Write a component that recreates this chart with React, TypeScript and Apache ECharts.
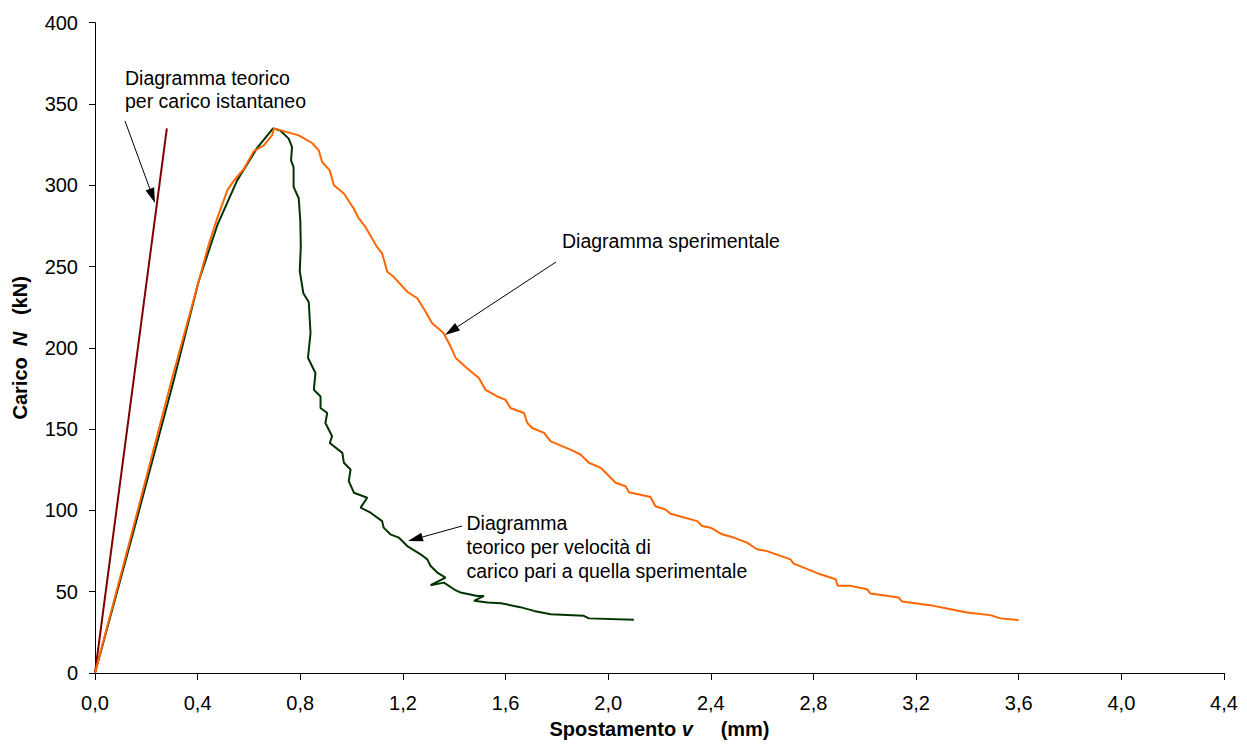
import React, { useEffect, useRef } from "react";
import * as echarts from "echarts";

// ---------- data ----------
const xTicks = { min: 0, max: 4.4, interval: 0.4 };
const yTicks = { min: 0, max: 400, interval: 50 };

// Diagramma teorico per carico istantaneo
const teoricoIstantaneo: [number, number][] = [
  [0, 0],
  [0.28, 335],
];

// Diagramma sperimentale
const sperimentale: [number, number][] = [
  [0, 0], [0.15, 90], [0.3, 181], [0.373, 223], [0.444, 264], [0.477, 280],
  [0.516, 297], [0.542, 303], [0.58, 310], [0.619, 321], [0.658, 324.5],
  [0.691, 331], [0.697, 335],
  [0.735, 333.3], [0.794, 330.7], [0.846, 326], [0.872, 321.5], [0.885, 314.3],
  [0.915, 309.2], [0.931, 300], [0.97, 294.9], [1.008, 285.7], [1.028, 279.6],
  [1.054, 274.4], [1.099, 262.1], [1.119, 258.1], [1.139, 246.8], [1.164, 243.7],
  [1.217, 234.5], [1.256, 230.5], [1.288, 222.3], [1.314, 215.2], [1.359, 209],
  [1.386, 200.8], [1.406, 193.7], [1.45, 187.5], [1.496, 181.4], [1.522, 174.2],
  [1.568, 170.1], [1.6, 168], [1.619, 163], [1.672, 159.9], [1.685, 153.8],
  [1.704, 150.7], [1.75, 147.7], [1.776, 142.5], [1.853, 137.4], [1.892, 134.4],
  [1.925, 129.3], [1.971, 126.2], [1.997, 122.1], [2.029, 117], [2.068, 114.9],
  [2.081, 111.2], [2.165, 108.2], [2.184, 102.6], [2.223, 100.6], [2.243, 98],
  [2.347, 93.4], [2.366, 90.4], [2.399, 89.4], [2.444, 85.3], [2.489, 83.3],
  [2.541, 80.2], [2.58, 76.1], [2.619, 75], [2.71, 69.9], [2.723, 67.3],
  [2.827, 60.7], [2.886, 57.7], [2.895, 53.6], [2.944, 53.6], [3.009, 51.5],
  [3.022, 48.9], [3.132, 46.4], [3.145, 44], [3.269, 41.3], [3.32, 39.7],
  [3.398, 37.2], [3.489, 35.6], [3.529, 33.6], [3.6, 32.5],
];

// Diagramma teorico per velocità di carico pari a quella sperimentale
const teoricoVelocita: [number, number][] = [
  [0, 0], [0.15, 87], [0.307, 180], [0.404, 241], [0.478, 276], [0.554, 303],
  [0.632, 323], [0.694, 335],
  [0.722, 333.7], [0.755, 328.7], [0.768, 323.5], [0.764, 315.3], [0.774, 311.2],
  [0.774, 299], [0.794, 292], [0.8, 278.5], [0.802, 262.1], [0.798, 247.2],
  [0.812, 233.6], [0.833, 228.2], [0.84, 209], [0.83, 193.9], [0.859, 184.5],
  [0.853, 174.2], [0.879, 170.1], [0.879, 163], [0.905, 159.9], [0.898, 153.8],
  [0.924, 145.6], [0.915, 141.5], [0.964, 135.4], [0.97, 129.3], [0.996, 125.2],
  [0.989, 118], [1.009, 110.9], [1.061, 107.8], [1.035, 101.7], [1.074, 98.6],
  [1.119, 93.4], [1.125, 89.4], [1.151, 85.3], [1.184, 83.3], [1.217, 78.1],
  [1.269, 73], [1.295, 69.9], [1.308, 65.8], [1.334, 61.8], [1.366, 58.7],
  [1.308, 54], [1.36, 55.6], [1.399, 51.5], [1.425, 49.5], [1.49, 47.4],
  [1.516, 47.4], [1.477, 44.4], [1.53, 43.4], [1.582, 42.9], [1.657, 40.5],
  [1.711, 38.2], [1.776, 36.2], [1.905, 35.2], [1.925, 33.6], [2.1, 32.7],
];

const labelIstantaneo = "Diagramma teorico\nper carico istantaneo";
const labelSperimentale = "Diagramma sperimentale";
const labelVelocita =
  "Diagramma\nteorico per velocità di\ncarico pari a quella sperimentale";

const FONT = "'Liberation Sans', Arial, sans-serif";
const FS = 19.5;
const TICK_FS = 20;
const TITLE_FS = 20;

function arrow(x1: number, y1: number, x2: number, y2: number) {
  const dx = x2 - x1;
  const dy = y2 - y1;
  const len = Math.sqrt(dx * dx + dy * dy);
  const ux = dx / len;
  const uy = dy / len;
  const L = 15;
  const W = 4.5;
  const bx = x2 - ux * L;
  const by = y2 - uy * L;
  return [
    {
      type: "line",
      shape: { x1, y1, x2: bx, y2: by },
      style: { stroke: "#000", lineWidth: 1 },
      silent: true,
    },
    {
      type: "polygon",
      shape: {
        points: [
          [x2, y2],
          [bx - uy * W, by + ux * W],
          [bx + uy * W, by - ux * W],
        ],
      },
      style: { fill: "#000" },
      silent: true,
    },
  ];
}

function annot(text: string, x: number, y: number, lh: number) {
  return {
    type: "text",
    x,
    y,
    style: {
      text,
      fill: "#000",
      fontSize: FS,
      fontFamily: FONT,
      lineHeight: lh,
    },
    silent: true,
  };
}

const titleRich = {
  b: { fontWeight: "bold", fontSize: TITLE_FS, fontFamily: FONT, color: "#000" },
  bi: { fontWeight: "bold", fontStyle: "italic", fontSize: TITLE_FS, fontFamily: FONT, color: "#000" },
};

export default function App() {
  const ref = useRef<HTMLDivElement>(null);

  useEffect(() => {
    if (!ref.current) return;
    const chart = echarts.init(ref.current, null, { renderer: "svg" });
    const option: any = {
      animation: false,
      backgroundColor: "#fff",
      grid: { left: 95, right: 23, top: 22.7, bottom: 80, containLabel: false },
      xAxis: {
        type: "value",
        min: xTicks.min,
        max: xTicks.max,
        interval: xTicks.interval,
        name: "{b|Spostamento }{bi|v}{b|     (mm)}",
        nameLocation: "middle",
        nameGap: 46,
        nameTextStyle: { rich: titleRich },
        axisLine: { show: true, lineStyle: { color: "#000", width: 1 } },
        axisTick: { show: true, inside: false, length: 7, lineStyle: { color: "#000" } },
        axisLabel: {
          margin: 20,
          fontSize: TICK_FS,
          fontFamily: FONT,
          color: "#000",
          formatter: (v: number) => v.toFixed(1).replace(".", ","),
        },
        splitLine: { show: false },
      },
      yAxis: {
        type: "value",
        min: yTicks.min,
        max: yTicks.max,
        interval: yTicks.interval,
        name: "{b|Carico  }{bi|N}{b|   (kN)}",
        nameLocation: "middle",
        nameGap: 65,
        nameTextStyle: { rich: titleRich },
        axisLine: { show: true, lineStyle: { color: "#000", width: 1 } },
        axisTick: { show: true, inside: false, length: 6, lineStyle: { color: "#000" } },
        axisLabel: {
          margin: 17,
          fontSize: TICK_FS,
          fontFamily: FONT,
          color: "#000",
          formatter: (v: number) => String(Math.round(v)),
        },
        splitLine: { show: false },
      },
      series: [
        {
          name: "Diagramma teorico per carico istantaneo",
          type: "line",
          data: teoricoIstantaneo,
          showSymbol: false,
          symbol: "none",
          lineStyle: { color: "#800000", width: 2 },
          z: 3,
        },
        {
          name: "Diagramma teorico per velocità di carico",
          type: "line",
          data: teoricoVelocita,
          showSymbol: false,
          symbol: "none",
          lineStyle: { color: "#003300", width: 2 },
          z: 2,
        },
        {
          name: "Diagramma sperimentale",
          type: "line",
          data: sperimentale,
          showSymbol: false,
          symbol: "none",
          lineStyle: { color: "#FF6600", width: 2 },
          z: 4,
        },
      ],
      graphic: [
        annot(labelIstantaneo, 125, 66, 23),
        ...arrow(125, 121, 155, 203),
        annot(labelSperimentale, 562, 229, 24),
        ...arrow(556, 262, 445, 335),
        annot(labelVelocita, 466.5, 511, 24),
        ...arrow(462, 526, 408, 541),
      ],
    };
    chart.setOption(option);
    return () => chart.dispose();
  }, []);

  return (
    <div
      ref={ref}
      style={{ position: "fixed", left: 0, top: 0, width: 1247, height: 753, background: "#fff" }}
    />
  );
}
